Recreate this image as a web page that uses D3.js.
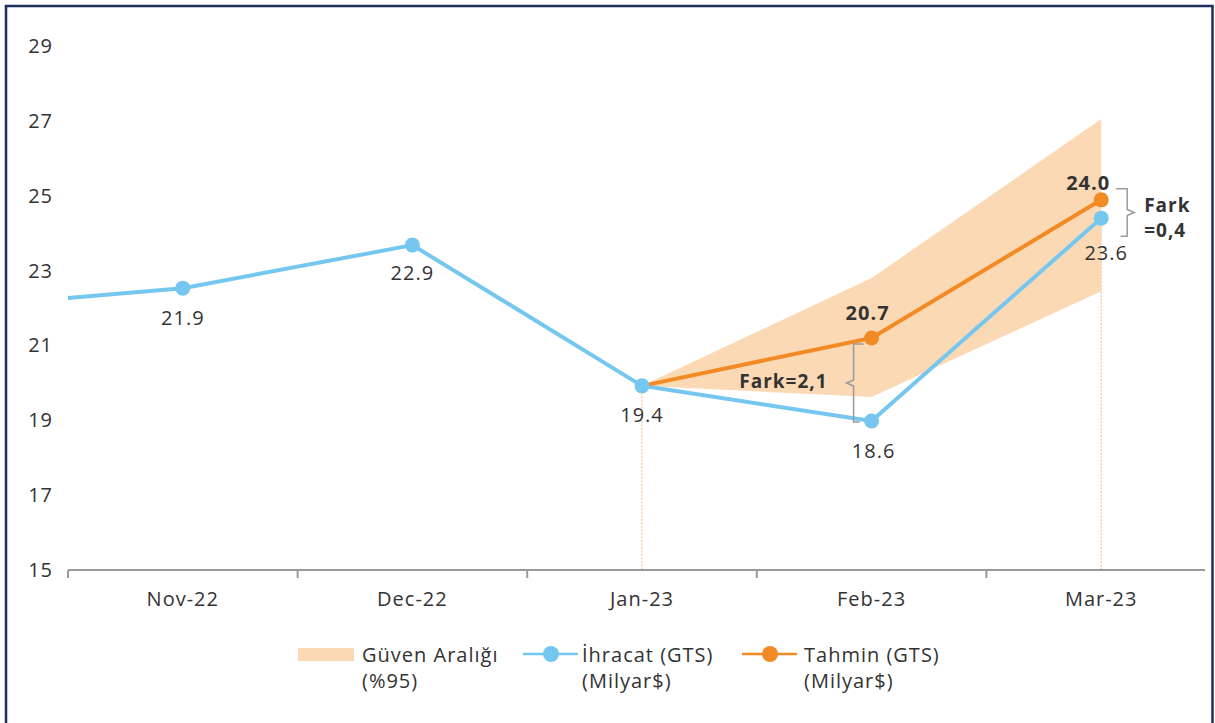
<!DOCTYPE html>
<html>
<head>
<meta charset="utf-8">
<script src="https://cdn.jsdelivr.net/npm/d3@7"></script>
<style>
  html, body { margin: 0; padding: 0; background: #fff; }
  svg { display: block; font-family: "Open Sans", "Noto Sans", sans-serif; }
  svg text { letter-spacing: 1px; }
</style>
</head>
<body>
<svg id="chart" width="1215" height="723"></svg>
<script>
// ---- data ----
const allMonths = ["Oct-22", "Nov-22", "Dec-22", "Jan-23", "Feb-23", "Mar-23"];
const shownMonths = ["Nov-22", "Dec-22", "Jan-23", "Feb-23", "Mar-23"];
const exportValues = [22.0, 22.53, 23.68, 19.92, 18.98, 24.40];       // İhracat (plotted)
const exportLabels = ["", "21.9", "22.9", "19.4", "18.6", "23.6"];
const forecastMonths = ["Jan-23", "Feb-23", "Mar-23"];
const forecastValues = [19.92, 21.20, 24.89];                           // Tahmin (plotted)
const forecastLabels = ["", "20.7", "24.0"];
const bandLower = [19.92, 19.62, 22.45];
const bandUpper = [19.92, 22.80, 27.05];
const yTicks = [15, 17, 19, 21, 23, 25, 27, 29];
const diffLabels = ["Fark=2,1", "Fark", "=0,4"];
const legendItems = [
  { type: "band", l1: "Güven Aralığı", l2: "(%95)" },
  { type: "export", l1: "İhracat (GTS)", l2: "(Milyar$)" },
  { type: "forecast", l1: "Tahmin (GTS)", l2: "(Milyar$)" }
];

(function () {
const BLUE = "#75c7ef", ORANGE = "#f28b25", BAND = "#fbd9b5", TEXT = "#333333", AXIS = "#9a9a9a";
const FS = 20;

const svg = d3.select("#chart");
const W = 1215, H = 723;
const pLeft = 68, pRight = 1216, axisEnd = 1205, pTop = 46, pBottom = 570;

const bwGuess = (pRight - pLeft) / shownMonths.length;
const x = d3.scaleBand(allMonths, [pLeft - bwGuess, pRight]).paddingInner(0).paddingOuter(0);
const bw = x.bandwidth();
const cx = m => x(m) + bw / 2;
const y = d3.scaleLinear([15, 29], [pBottom, pTop]);

// border
svg.append("rect").attr("x", 6).attr("y", 6).attr("width", 1206.5).attr("height", 740)
  .attr("fill", "none").attr("stroke", "#1f2f5e").attr("stroke-width", 2.5);

svg.append("defs").append("clipPath").attr("id", "plotclip")
  .append("rect").attr("x", pLeft).attr("y", 0).attr("width", axisEnd - pLeft).attr("height", H);

// y labels
svg.append("g").selectAll("text").data(yTicks).join("text")
  .attr("x", 53).attr("y", d => y(d)).attr("dy", "0.35em")
  .attr("text-anchor", "end").attr("font-size", FS).attr("fill", TEXT)
  .text(d => d);

// dotted verticals
const vLines = ["Jan-23", "Mar-23"];
svg.append("g").selectAll("line").data(vLines).join("line")
  .attr("x1", d => cx(d)).attr("x2", d => cx(d))
  .attr("y1", d => y(exportValues[allMonths.indexOf(d)])).attr("y2", pBottom)
  .attr("stroke", "#f3b886").attr("stroke-width", 1).attr("stroke-dasharray", "2,1.5");

// confidence band
const area = d3.area().x(d => cx(d.m)).y0(d => y(d.lo)).y1(d => y(d.hi));
svg.append("path")
  .datum(forecastMonths.map((m, i) => ({ m, lo: bandLower[i], hi: bandUpper[i] })))
  .attr("d", area).attr("fill", BAND);

// x axis
const gx = svg.append("g");
gx.append("line").attr("x1", pLeft).attr("x2", axisEnd).attr("y1", pBottom).attr("y2", pBottom)
  .attr("stroke", AXIS).attr("stroke-width", 2);
gx.selectAll("line.tick").data(shownMonths).join("line").attr("class", "tick")
  .attr("x1", d => x(d)).attr("x2", d => x(d)).attr("y1", pBottom).attr("y2", pBottom + 8)
  .attr("stroke", AXIS).attr("stroke-width", 2);
gx.selectAll("text").data(shownMonths).join("text")
  .attr("x", d => cx(d)).attr("y", 599).attr("dy", "0.35em")
  .attr("text-anchor", "middle").attr("font-size", FS).attr("fill", TEXT).text(d => d);

// export line
const line = d3.line().x(d => cx(d.m)).y(d => y(d.v));
const expData = allMonths.map((m, i) => ({ m, v: exportValues[i], lab: exportLabels[i] }));
svg.append("path").datum(expData).attr("d", line).attr("clip-path", "url(#plotclip)")
  .attr("fill", "none").attr("stroke", BLUE).attr("stroke-width", 4).attr("stroke-linejoin", "round");

// forecast line
const fcData = forecastMonths.map((m, i) => ({ m, v: forecastValues[i], lab: forecastLabels[i] }));
svg.append("path").datum(fcData).attr("d", line)
  .attr("fill", "none").attr("stroke", ORANGE).attr("stroke-width", 4).attr("stroke-linejoin", "round");

// markers
svg.append("g").selectAll("circle").data(expData.filter(d => d.m !== "Oct-22")).join("circle")
  .attr("cx", d => cx(d.m)).attr("cy", d => y(d.v)).attr("r", 7.5).attr("fill", BLUE);
svg.append("g").selectAll("circle").data(fcData.filter(d => d.lab)).join("circle")
  .attr("cx", d => cx(d.m)).attr("cy", d => y(d.v)).attr("r", 7.5).attr("fill", ORANGE);

// export labels (below points)
const expOffsets = { "Nov-22": [0, 30], "Dec-22": [0, 28], "Jan-23": [0, 29], "Feb-23": [2, 30], "Mar-23": [5, 35] };
svg.append("g").selectAll("text").data(expData.filter(d => d.lab)).join("text")
  .attr("x", d => cx(d.m) + expOffsets[d.m][0]).attr("y", d => y(d.v) + expOffsets[d.m][1]).attr("dy", "0.35em")
  .attr("text-anchor", "middle").attr("font-size", FS).attr("fill", TEXT).text(d => d.lab);

// forecast labels (above points)
const fcOffsets = { "Feb-23": [-4, -25], "Mar-23": [-13, -17] };
svg.append("g").selectAll("text").data(fcData.filter(d => d.lab)).join("text")
  .attr("x", d => cx(d.m) + fcOffsets[d.m][0]).attr("y", d => y(d.v) + fcOffsets[d.m][1]).attr("dy", "0.35em")
  .attr("text-anchor", "middle").attr("font-size", FS).attr("font-weight", "bold").attr("fill", TEXT).text(d => d.lab);

// brackets
function bracket(xv, y1, y2, dir, arm) {
  const ym = (y1 + y2) / 2;
  const p = d3.path();
  p.moveTo(xv + dir * arm, y1); p.lineTo(xv, y1); p.lineTo(xv, ym - 3);
  p.lineTo(xv - dir * 7, ym); p.lineTo(xv, ym + 3); p.lineTo(xv, y2); p.lineTo(xv + dir * arm * 0.6, y2);
  return p.toString();
}
// Feb bracket (notch pointing left)
{
  const fx = cx("Feb-23") - 18;
  const yTop = y(forecastValues[1]) + 6, yBot = y(exportValues[4]) + 1;
  svg.append("path").attr("d", bracket(fx, yTop, yBot, 1, 10))
    .attr("fill", "none").attr("stroke", AXIS).attr("stroke-width", 1.5);
  svg.append("text").attr("x", fx - 26).attr("y", (yTop + yBot) / 2 - 2).attr("dy", "0.35em")
    .attr("text-anchor", "end").attr("font-size", 19).attr("font-weight", "bold").attr("fill", TEXT)
    .text(diffLabels[0]);
}
// Mar bracket (notch pointing right)
{
  const mx = cx("Mar-23") + 26;
  const yTop = y(forecastValues[2]) - 11, yBot = y(exportValues[5]) + 18;
  svg.append("path").attr("d", bracket(mx, yTop, yBot, -1, 11))
    .attr("fill", "none").attr("stroke", AXIS).attr("stroke-width", 1.5);
  svg.append("text").attr("x", mx + 17).attr("y", yTop + 17).attr("dy", "0.35em")
    .attr("font-size", 19).attr("font-weight", "bold").attr("fill", TEXT).text(diffLabels[1]);
  svg.append("text").attr("x", mx + 17).attr("y", yTop + 42).attr("dy", "0.35em")
    .attr("font-size", 19).attr("font-weight", "bold").attr("fill", TEXT).text(diffLabels[2]);
}

// legend
const legX = [298, 523, 742];
const lg = svg.append("g");
legendItems.forEach((it, i) => {
  const g = lg.append("g").attr("transform", `translate(${legX[i]},654)`);
  let tx;
  if (it.type === "band") {
    g.append("rect").attr("x", 0).attr("y", -6).attr("width", 56).attr("height", 13).attr("fill", BAND);
    tx = 64;
  } else {
    const c = it.type === "export" ? BLUE : ORANGE;
    g.append("line").attr("x1", 0).attr("x2", 55).attr("y1", 0).attr("y2", 0).attr("stroke", c).attr("stroke-width", 2.5);
    g.append("circle").attr("cx", 28).attr("cy", 0).attr("r", 8).attr("fill", c);
    tx = it.type === "export" ? 59 : 62;
  }
  g.append("text").attr("x", tx).attr("y", 1).attr("dy", "0.35em").attr("font-size", FS).attr("fill", TEXT).text(it.l1);
  g.append("text").attr("x", tx).attr("y", 27).attr("dy", "0.35em").attr("font-size", FS).attr("fill", TEXT).text(it.l2);
});
})();
</script>
</body>
</html>
